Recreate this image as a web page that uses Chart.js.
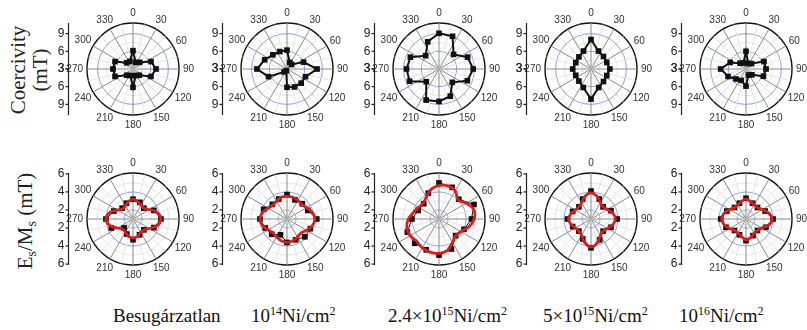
<!DOCTYPE html>
<html><head><meta charset="utf-8">
<script src="https://cdn.jsdelivr.net/npm/chart.js@4"></script>
<style>
html,body{margin:0;padding:0;background:#fff;}
#wrap{position:relative;width:807px;height:330px;overflow:hidden;background:#fff;}
canvas{position:absolute;}
.cap{position:absolute;font-family:"Liberation Serif","Times New Roman",serif;font-size:19px;line-height:19px;color:#111;white-space:nowrap;}
.cap sup{font-size:12px;vertical-align:7px;line-height:0;}
.ylab{position:absolute;font-family:"Liberation Serif","Times New Roman",serif;font-size:21px;line-height:22px;color:#222;white-space:nowrap;text-align:center;transform:translate(-50%,-50%) rotate(-90deg);}
.ylab sub{font-size:14px;vertical-align:-4px;line-height:0;}
</style></head>
<body><div id="wrap">
<div class="ylab" style="left:29px;top:70px">Coercivity<br>(mT)</div>
<div class="ylab" style="left:25px;top:221px">E<sub>s</sub>/M<sub>s</sub> (mT)</div>
</div>
<script>
// ---- categories (angles, degrees) ----
const angleGrid = [0,7.5,15,22.5,30,37.5,45,52.5,60,67.5,75,82.5,90,97.5,105,112.5,120,127.5,135,142.5,150,157.5,165,172.5,
  180,187.5,195,202.5,210,217.5,225,232.5,240,247.5,255,262.5,270,277.5,285,292.5,300,307.5,315,322.5,330,337.5,345,352.5];
const squareAngles = [0,22.5,45,67.5,90,112.5,135,157.5,180,202.5,225,247.5,270,292.5,315,337.5];
const fitAngles = [0,15,30,45,60,75,90,105,120,135,150,165,180,195,210,225,240,255,270,285,300,315,330,345];
const angleTickLabels = [0,30,60,90,120,150,180,210,240,270,300,330];

// ---- coercivity (mT), top row ----
const hcUnirr = [6.1,4.2,4.6,6.3,6.9,6.3,4.5,4.2,6.1,4.2,4.5,6.3,6.4,6.3,4.5,4.4];
const hc1e14  = [6.2,4.2,4.1,6.05,8.1,6.4,6.4,6.3,6.1,3.3,3.7,6.4,8.1,7.1,6.4,6.2];
const hc24e15 = [9.05,9.0,6.5,8.25,8.8,8.2,6.2,8.0,8.5,8.7,6.05,8.4,8.5,8.25,6.2,8.0];
const hc5e15  = [8.0,6.3,6.0,5.9,6.2,5.9,6.0,6.4,8.1,6.4,5.9,5.8,6.1,5.8,5.9,6.3];
const hc1e16  = [6.0,4.0,4.3,6.3,6.4,6.2,4.4,4.1,5.9,5.1,5.4,6.3,7.3,5.9,4.4,4.1];

// ---- Es/Ms (mT), bottom row: measured points ----
const esUnirr = [3.2,3.0,2.7,3.5,4.1,3.5,2.7,2.9,3.3,2.8,2.4,3.6,4.0,3.3,2.7,2.9];
const es1e14  = [3.7,3.3,3.4,3.5,4.3,3.8,3.8,3.5,3.6,2.9,3.4,3.6,4.0,3.8,3.3,3.4];
const es24e15 = [5.0,4.8,4.1,5.2,4.6,4.0,3.6,4.6,5.0,4.7,4.8,4.8,4.0,3.5,3.4,4.1];
const es5e15  = [4.1,3.4,2.9,3.4,3.9,3.4,2.9,3.5,4.2,3.4,2.9,3.2,3.6,3.2,2.9,3.4];
const es1e16  = [3.3,2.9,2.8,3.3,4.0,3.4,2.8,3.0,3.4,2.9,2.8,3.4,3.8,3.3,2.8,2.9];

// ---- Es/Ms fitted curves ----
const fitUnirr = [3.2,3.0,2.8,2.7,3.1,3.8,4.1,3.8,3.1,2.7,2.7,3.0,3.1,3.0,2.7,2.6,3.0,3.7,4.0,3.7,3.0,2.6,2.7,3.0];
const fit1e14  = [3.5,3.5,3.4,3.3,3.5,3.9,4.1,3.9,3.5,3.2,3.3,3.5,3.6,3.5,3.3,3.2,3.4,3.8,4.0,3.8,3.4,3.2,3.3,3.5];
const fit24e15 = [4.7,4.8,4.6,4.0,4.5,5.0,4.9,4.4,3.8,3.6,4.0,4.6,4.8,4.8,4.7,4.5,4.7,4.7,4.4,3.9,3.6,3.5,3.8,4.4];
const fit5e15  = [3.9,3.6,3.1,2.9,3.1,3.5,3.7,3.5,3.1,2.9,3.1,3.7,4.1,3.7,3.1,2.9,3.0,3.3,3.5,3.3,3.0,2.9,3.1,3.6];
const fit1e16  = [3.2,3.0,2.8,2.8,3.1,3.6,3.9,3.6,3.0,2.8,2.8,3.1,3.3,3.0,2.8,2.8,3.1,3.5,3.7,3.5,3.1,2.8,2.8,3.0];

// ---- radial axis ticks ----
const hcAxisUpper = [9,6,3], hcAxisLower = [3,6,9];
const esAxisUpper = [6,4,2], esAxisLower = [2,4,6];
const hcRings = [3,4.5,6,7.5,9,10.8], hcBlue = [6,9];
const esRings = [1,2,3,4,5,6.1], esBlue = [2,4];

// ---- captions ----
const doseLabels = ['Besugárzatlan','10<sup>14</sup>Ni/cm<sup>2</sup>','2.4×10<sup>15</sup>Ni/cm<sup>2</sup>','5×10<sup>15</sup>Ni/cm<sup>2</sup>','10<sup>16</sup>Ni/cm<sup>2</sup>'];

// ---- layout ----
const colX = [133,287,439,591,746];
const capX = [113,251,388,543,679];
const rowY = [69,219];

const wrap = document.getElementById('wrap');
doseLabels.forEach((t,i)=>{
  const d = document.createElement('div'); d.className='cap';
  d.style.left = capX[i]+'px'; d.style.top='306px'; d.innerHTML = t; wrap.appendChild(d);
});

function spread(angles, vals){
  const out = angleGrid.map(()=>null);
  angles.forEach((a,i)=>{ out[angleGrid.indexOf(a)] = vals[i]; });
  return out;
}

function decorPlugin(upper, lower){
  return {
    id:'decor',
    afterDraw(chart){
      const s = chart.scales.r, ctx = chart.ctx;
      const xc = s.xCenter, yc = s.yCenter, R = s.drawingArea;
      ctx.save();
      ctx.font = '10px "Liberation Sans", Arial, sans-serif';
      ctx.fillStyle = '#333'; ctx.textAlign = 'center'; ctx.textBaseline = 'middle';
      angleTickLabels.forEach(a=>{
        const t = a*Math.PI/180, txt = String(a), w = ctx.measureText(txt).width;
        const ext = Math.sqrt(Math.pow(w/2*Math.sin(t),2) + Math.pow(6*Math.cos(t),2));
        const d = R + 4 + ext;
        ctx.fillText(txt, xc + d*Math.sin(t), yc - d*Math.cos(t));
      });
      const ax = Math.round(xc - R - 19) + 0.5;
      ctx.strokeStyle = '#222'; ctx.lineWidth = 1.2;
      ctx.beginPath(); ctx.moveTo(ax, yc-R); ctx.lineTo(ax, yc+R); ctx.stroke();
      ctx.font = '12px "Liberation Sans", Arial, sans-serif'; ctx.textAlign = 'right'; ctx.fillStyle = '#222';
      const mark = (v,sgn)=>{
        const y = yc + sgn*s.getDistanceFromCenterForValue(v);
        ctx.beginPath(); ctx.moveTo(ax-3,y); ctx.lineTo(ax,y); ctx.stroke();
        ctx.fillText(String(v), ax-4, y);
      };
      upper.forEach(v=>mark(v,-1)); lower.forEach(v=>mark(v,1));
      ctx.restore();
    }
  };
}

function makePanel(cx, cy, cfg){
  const c = document.createElement('canvas');
  c.width = 170; c.height = 136;
  c.style.left = (cx-85)+'px'; c.style.top = (cy-68)+'px';
  wrap.appendChild(c);
  const datasets = [];
  if (cfg.fit) datasets.push({data: spread(fitAngles, cfg.fit), borderColor:'#e31a1c', borderWidth:2.8,
    pointRadius:0, tension:0.4, spanGaps:true, fill:false});
  datasets.push({data: spread(squareAngles, cfg.sq), borderColor:'#111', borderWidth: cfg.top?2:1,
    pointStyle:'rect', pointRadius: 4, pointBackgroundColor:'#111', pointBorderColor:'#111',
    pointBorderWidth:0, tension:0, spanGaps:true, fill:false});
  new Chart(c, {
    type:'radar',
    data:{labels: angleGrid.map(String), datasets},
    options:{
      responsive:false, animation:false, events:[],
      layout:{padding:{left:39,right:39,top:22,bottom:22}},
      plugins:{legend:{display:false}, tooltip:{enabled:false}},
      scales:{r:{
        min: cfg.min, max: cfg.max, startAngle:0,
        ticks:{display:false},
        pointLabels:{display:false},
        grid:{circular:true,
          color: c2 => { const v = c2.tick.value; if (v === cfg.max) return '#111'; if (cfg.blue.includes(v)) return '#8c9fdb'; return '#e6e6e6'; },
          lineWidth: c2 => c2.tick.value === cfg.max ? 1.4 : 1},
        angleLines:{
          color: c2 => c2.index%4===0 ? '#8a8a8a' : '#e4e4e4',
          lineWidth: c2 => c2.index%2===0 ? 1 : 0},
        afterBuildTicks: s => { s.ticks = cfg.rings.map(v=>({value:v})); }
      }}
    },
    plugins:[decorPlugin(cfg.upper, cfg.lower)]
  });
}

const hcSets = [hcUnirr, hc1e14, hc24e15, hc5e15, hc1e16];
const esSets = [esUnirr, es1e14, es24e15, es5e15, es1e16];
const fitSets = [fitUnirr, fit1e14, fit24e15, fit5e15, fit1e16];
colX.forEach((cx,i)=>{
  makePanel(cx, rowY[0], {top:true, sq:hcSets[i], fit:null, min:3, max:10.8, rings:hcRings, blue:hcBlue, upper:hcAxisUpper, lower:hcAxisLower});
  makePanel(cx, rowY[1], {top:false, sq:esSets[i], fit:fitSets[i], min:1, max:6.1, rings:esRings, blue:esBlue, upper:esAxisUpper, lower:esAxisLower});
});
</script>
</body></html>
